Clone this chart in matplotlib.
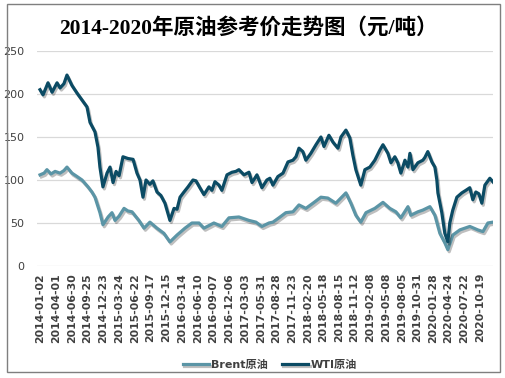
import numpy as np
import pandas as pd
import matplotlib
matplotlib.use('Agg')
import matplotlib.pyplot as plt
import matplotlib.patheffects as pe
from matplotlib.patches import Rectangle

plt.rcParams['font.family'] = ['DejaVu Sans', 'Noto Sans CJK SC']

# WTI
wti_dates = ["2014-01-02", "2014-01-19", "2014-02-16", "2014-03-11", "2014-04-08", "2014-04-25",
             "2014-05-17", "2014-06-03", "2014-07-01", "2014-07-30", "2014-08-27", "2014-09-24",
             "2014-10-11", "2014-11-08", "2014-11-25", "2014-12-06", "2014-12-23", "2015-01-15",
             "2015-02-01", "2015-02-18", "2015-03-07", "2015-03-24", "2015-04-15", "2015-05-13",
             "2015-06-11", "2015-07-03", "2015-07-20", "2015-08-06", "2015-08-23", "2015-09-14",
             "2015-10-01", "2015-10-24", "2015-11-15", "2015-12-08", "2016-01-05", "2016-01-28",
             "2016-02-14", "2016-03-02", "2016-03-24", "2016-04-16", "2016-05-14", "2016-05-31",
             "2016-06-22", "2016-07-15", "2016-08-12", "2016-08-29", "2016-09-15", "2016-10-08",
             "2016-10-24", "2016-11-22", "2016-12-20", "2017-01-11", "2017-01-28", "2017-02-26",
             "2017-03-26", "2017-04-12", "2017-05-10", "2017-06-07", "2017-07-05", "2017-07-22",
             "2017-08-08", "2017-09-05", "2017-10-04", "2017-11-01", "2017-11-29", "2017-12-16",
             "2018-01-02", "2018-01-24", "2018-02-10", "2018-03-10", "2018-04-08", "2018-05-06",
             "2018-05-23", "2018-06-20", "2018-07-13", "2018-08-10", "2018-08-27", "2018-09-24",
             "2018-10-16", "2018-11-02", "2018-11-19", "2018-12-17", "2019-01-09", "2019-02-06",
             "2019-03-06", "2019-04-04", "2019-04-21", "2019-05-19", "2019-06-05", "2019-06-27",
             "2019-07-14", "2019-07-31", "2019-08-23", "2019-09-09", "2019-09-20", "2019-10-07",
             "2019-11-04", "2019-12-02", "2019-12-13", "2019-12-30", "2020-01-22", "2020-02-08",
             "2020-02-19", "2020-02-25", "2020-03-18", "2020-04-04", "2020-04-21", "2020-05-02",
             "2020-05-19", "2020-06-11", "2020-07-09", "2020-08-01", "2020-08-23", "2020-09-09",
             "2020-09-26", "2020-10-13", "2020-10-30", "2020-11-16", "2020-12-14", "2020-12-31"]
wti = [205, 199, 213, 202, 213, 207,
       212, 222, 210, 201, 193, 185,
       167, 156, 138, 115, 92, 108,
       115, 97, 110, 105, 127, 125,
       124, 108, 100, 80, 100, 95,
       99, 86, 82, 73, 53, 67,
       66, 80, 86, 92, 100, 99,
       91, 83, 92, 88, 98, 94,
       88, 106, 109, 110, 112, 106,
       109, 97, 106, 91, 100, 102,
       94, 104, 108, 121, 123, 127,
       137, 133, 123, 131, 141, 150,
       139, 152, 144, 137, 150, 158,
       149, 129, 112, 94, 112, 115,
       123, 135, 141, 131, 120, 127,
       120, 108, 123, 115, 131, 112,
       120, 123, 126, 133, 121, 115,
       100, 85, 62, 38, 28, 50,
       65, 80, 85, 88, 91, 77,
       86, 84, 73, 94, 102, 98]

# Brent
brent_dates = ["2014-01-02", "2014-01-25", "2014-02-10", "2014-03-05", "2014-03-28", "2014-04-25",
               "2014-05-17", "2014-06-03", "2014-07-01", "2014-07-30", "2014-08-27", "2014-09-30",
               "2014-10-22", "2014-11-08", "2014-12-06", "2014-12-23", "2015-01-21", "2015-02-12",
               "2015-03-01", "2015-03-24", "2015-04-21", "2015-05-13", "2015-06-05", "2015-07-14",
               "2015-08-12", "2015-09-14", "2015-10-24", "2015-12-02", "2016-01-05", "2016-02-14",
               "2016-03-30", "2016-05-08", "2016-06-17", "2016-07-15", "2016-09-09", "2016-10-24",
               "2016-12-03", "2017-01-28", "2017-03-26", "2017-05-04", "2017-06-07", "2017-07-17",
               "2017-08-08", "2017-09-11", "2017-10-20", "2017-11-29", "2018-01-02", "2018-02-10",
               "2018-03-22", "2018-05-06", "2018-06-14", "2018-07-29", "2018-09-24", "2018-10-22",
               "2018-11-19", "2018-12-17", "2019-01-15", "2019-03-06", "2019-04-21", "2019-05-30",
               "2019-07-03", "2019-07-31", "2019-09-09", "2019-09-25", "2019-11-04", "2019-12-02",
               "2020-01-11", "2020-02-08", "2020-03-07", "2020-04-04", "2020-04-21", "2020-05-19",
               "2020-06-28", "2020-08-23", "2020-10-07", "2020-11-05", "2020-12-03", "2020-12-31"]
brent = [106, 108, 112, 107, 110, 108,
         111, 115, 108, 104, 100, 92,
         86, 80, 62, 48, 57, 62,
         53, 58, 67, 64, 63, 53,
         44, 51, 44, 38, 28, 36,
         44, 50, 50, 44, 50, 46,
         56, 57, 53, 51, 46, 50,
         51, 56, 62, 63, 71, 67,
         73, 80, 79, 73, 85, 73,
         59, 51, 62, 67, 74, 67,
         63, 56, 69, 59, 63, 65,
         69, 59, 38, 27, 19, 36,
         42, 46, 42, 40, 50, 51]

tick_dates = ["2014-01-02", "2014-04-01", "2014-06-30", "2014-09-25", "2014-12-23",
              "2015-03-24", "2015-06-22", "2015-09-17", "2015-12-15", "2016-03-14",
              "2016-06-10", "2016-09-07", "2016-12-06", "2017-03-03", "2017-05-31",
              "2017-08-28", "2017-11-23", "2018-02-20", "2018-05-18", "2018-08-15",
              "2018-11-12", "2019-02-08", "2019-05-08", "2019-08-05", "2019-10-31",
              "2020-01-28", "2020-04-24", "2020-07-22", "2020-10-19"]

c_brent = '#5B95A6'
c_wti = '#0B4B64'

fig = plt.figure(figsize=(5.05, 3.78), dpi=100)
ax = fig.add_axes([0.0733, 0.2963, 0.903, 0.5688])

# outer frame
fig.patches.append(Rectangle((7/505, 6/378), 493/505, 368/378, transform=fig.transFigure,
                             fill=False, edgecolor='#7F7F7F', lw=1.0))

shadow = [pe.SimpleLineShadow(offset=(1, -1.5), alpha=0.25), pe.Normal()]
ax.plot(pd.to_datetime(brent_dates), brent, color=c_brent, lw=2.3, label='Brent原油',
        path_effects=shadow, solid_joinstyle='round')
ax.plot(pd.to_datetime(wti_dates), wti, color=c_wti, lw=2.3, label='WTI原油',
        path_effects=shadow, solid_joinstyle='round')

ax.set_ylim(0, 250)
ax.set_yticks([0, 50, 100, 150, 200, 250])
ax.set_xlim(pd.Timestamp("2013-12-16"), pd.Timestamp("2021-01-01"))
ax.set_xticks(pd.to_datetime(tick_dates))
ax.set_xticklabels(tick_dates, rotation=90, fontsize=7.8, fontweight='bold', color='#404040')
ax.tick_params(axis='y', labelsize=8, labelcolor='#404040', length=0, pad=9)
ax.tick_params(axis='x', length=0, pad=5)
ax.grid(axis='y', color='#D9D9D9', lw=0.9)
ax.set_axisbelow(True)
for s in ax.spines.values():
    s.set_visible(False)

fig.text(0.492, 0.925, '2014-2020年原油参考价走势图（元/吨）', ha='center', va='center',
         fontsize=15.5, fontweight='bold', family=['Liberation Serif', 'Noto Sans CJK SC'])

ax.legend(loc='center', bbox_to_anchor=(0.51, -0.46), ncol=2, frameon=False,
          prop={'size': 8, 'weight': 'bold'}, handlelength=2.4, columnspacing=1.2,
          handletextpad=0.2, labelcolor='#404040')

fig.savefig('out.png', dpi=100)
